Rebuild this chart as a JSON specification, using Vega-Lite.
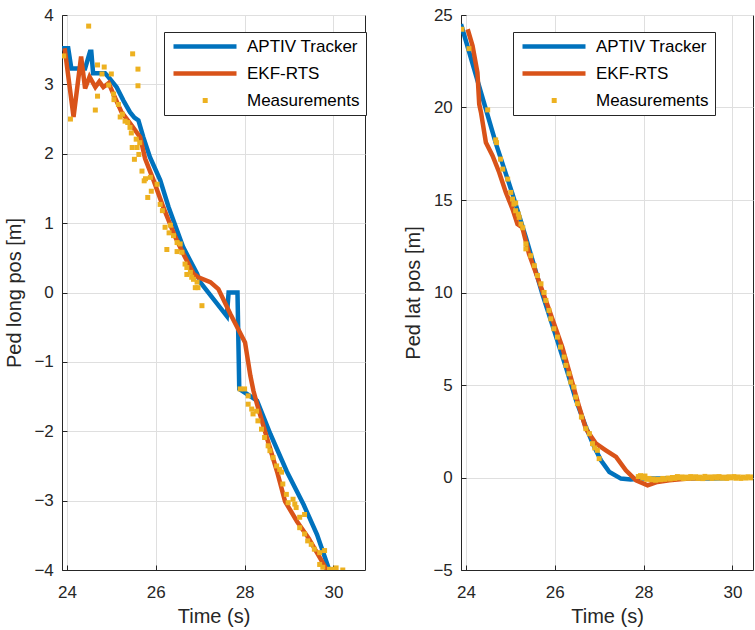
{
  "$schema": "https://vega.github.io/schema/vega-lite/v6.json",
  "background": "white",
  "padding": {"left": 4, "top": 5, "right": 0, "bottom": 0},
  "spacing": 36,
  "datasets": {
    "la": [
      {"t": 23.89, "v": 3.52, "s": "APTIV Tracker"}, {"t": 24.03, "v": 3.52, "s": "APTIV Tracker"}, {"t": 24.10, "v": 3.23, "s": "APTIV Tracker"}, {"t": 24.41, "v": 3.23, "s": "APTIV Tracker"}, {"t": 24.52, "v": 3.47, "s": "APTIV Tracker"}, {"t": 24.55, "v": 3.47, "s": "APTIV Tracker"}, {"t": 24.59, "v": 3.16, "s": "APTIV Tracker"}, {"t": 24.86, "v": 3.16, "s": "APTIV Tracker"}, {"t": 24.93, "v": 3.11, "s": "APTIV Tracker"}, {"t": 25.12, "v": 2.96, "s": "APTIV Tracker"}, {"t": 25.27, "v": 2.77, "s": "APTIV Tracker"}, {"t": 25.42, "v": 2.60, "s": "APTIV Tracker"}, {"t": 25.52, "v": 2.52, "s": "APTIV Tracker"}, {"t": 25.61, "v": 2.48, "s": "APTIV Tracker"}, {"t": 25.72, "v": 2.24, "s": "APTIV Tracker"}, {"t": 25.87, "v": 1.95, "s": "APTIV Tracker"}, {"t": 26.10, "v": 1.62, "s": "APTIV Tracker"}, {"t": 26.29, "v": 1.23, "s": "APTIV Tracker"}, {"t": 26.62, "v": 0.65, "s": "APTIV Tracker"}, {"t": 26.93, "v": 0.27, "s": "APTIV Tracker"}, {"t": 27.00, "v": 0.15, "s": "APTIV Tracker"}, {"t": 27.60, "v": -0.34, "s": "APTIV Tracker"}, {"t": 27.64, "v": 0.0, "s": "APTIV Tracker"}, {"t": 27.84, "v": 0.0, "s": "APTIV Tracker"}, {"t": 27.88, "v": -1.39, "s": "APTIV Tracker"}, {"t": 28.28, "v": -1.56, "s": "APTIV Tracker"}, {"t": 28.58, "v": -2.04, "s": "APTIV Tracker"}, {"t": 28.95, "v": -2.58, "s": "APTIV Tracker"}, {"t": 29.33, "v": -3.06, "s": "APTIV Tracker"}, {"t": 29.63, "v": -3.49, "s": "APTIV Tracker"}, {"t": 29.89, "v": -3.97, "s": "APTIV Tracker"}, {"t": 29.92, "v": -4.0, "s": "APTIV Tracker"}
    ],
    "le": [
      {"t": 23.95, "v": 3.52, "s": "EKF-RTS"}, {"t": 24.15, "v": 2.53, "s": "EKF-RTS"}, {"t": 24.32, "v": 3.40, "s": "EKF-RTS"}, {"t": 24.41, "v": 2.94, "s": "EKF-RTS"}, {"t": 24.51, "v": 3.11, "s": "EKF-RTS"}, {"t": 24.64, "v": 2.96, "s": "EKF-RTS"}, {"t": 24.73, "v": 3.04, "s": "EKF-RTS"}, {"t": 24.82, "v": 2.96, "s": "EKF-RTS"}, {"t": 24.94, "v": 3.02, "s": "EKF-RTS"}, {"t": 25.04, "v": 2.87, "s": "EKF-RTS"}, {"t": 25.23, "v": 2.60, "s": "EKF-RTS"}, {"t": 25.42, "v": 2.44, "s": "EKF-RTS"}, {"t": 25.65, "v": 2.24, "s": "EKF-RTS"}, {"t": 25.76, "v": 1.93, "s": "EKF-RTS"}, {"t": 25.95, "v": 1.62, "s": "EKF-RTS"}, {"t": 26.17, "v": 1.23, "s": "EKF-RTS"}, {"t": 26.44, "v": 0.80, "s": "EKF-RTS"}, {"t": 26.62, "v": 0.56, "s": "EKF-RTS"}, {"t": 26.85, "v": 0.27, "s": "EKF-RTS"}, {"t": 26.96, "v": 0.22, "s": "EKF-RTS"}, {"t": 27.23, "v": 0.15, "s": "EKF-RTS"}, {"t": 27.41, "v": 0.05, "s": "EKF-RTS"}, {"t": 27.68, "v": -0.31, "s": "EKF-RTS"}, {"t": 28.01, "v": -0.72, "s": "EKF-RTS"}, {"t": 28.13, "v": -1.20, "s": "EKF-RTS"}, {"t": 28.20, "v": -1.42, "s": "EKF-RTS"}, {"t": 28.28, "v": -1.61, "s": "EKF-RTS"}, {"t": 28.50, "v": -2.09, "s": "EKF-RTS"}, {"t": 28.73, "v": -2.58, "s": "EKF-RTS"}, {"t": 28.91, "v": -3.01, "s": "EKF-RTS"}, {"t": 29.18, "v": -3.30, "s": "EKF-RTS"}, {"t": 29.44, "v": -3.54, "s": "EKF-RTS"}, {"t": 29.70, "v": -3.83, "s": "EKF-RTS"}, {"t": 29.85, "v": -4.0, "s": "EKF-RTS"}
    ],
    "lm": [
      {"t": 23.93, "v": 3.41, "s": "Measurements"}, {"t": 24.08, "v": 2.50, "s": "Measurements"}, {"t": 24.49, "v": 3.84, "s": "Measurements"}, {"t": 24.64, "v": 2.63, "s": "Measurements"}, {"t": 24.69, "v": 2.83, "s": "Measurements"}, {"t": 24.69, "v": 3.28, "s": "Measurements"}, {"t": 24.79, "v": 3.15, "s": "Measurements"}, {"t": 24.84, "v": 3.25, "s": "Measurements"}, {"t": 24.94, "v": 2.99, "s": "Measurements"}, {"t": 25.00, "v": 3.15, "s": "Measurements"}, {"t": 25.05, "v": 2.86, "s": "Measurements"}, {"t": 25.06, "v": 2.78, "s": "Measurements"}, {"t": 25.16, "v": 2.71, "s": "Measurements"}, {"t": 25.20, "v": 2.53, "s": "Measurements"}, {"t": 25.25, "v": 2.57, "s": "Measurements"}, {"t": 25.31, "v": 2.47, "s": "Measurements"}, {"t": 25.37, "v": 2.45, "s": "Measurements"}, {"t": 25.42, "v": 2.38, "s": "Measurements"}, {"t": 25.45, "v": 2.30, "s": "Measurements"}, {"t": 25.48, "v": 3.44, "s": "Measurements"}, {"t": 25.47, "v": 2.09, "s": "Measurements"}, {"t": 25.52, "v": 1.92, "s": "Measurements"}, {"t": 25.56, "v": 2.21, "s": "Measurements"}, {"t": 25.58, "v": 2.09, "s": "Measurements"}, {"t": 25.60, "v": 3.22, "s": "Measurements"}, {"t": 25.60, "v": 2.98, "s": "Measurements"}, {"t": 25.62, "v": 1.99, "s": "Measurements"}, {"t": 25.64, "v": 2.16, "s": "Measurements"}, {"t": 25.69, "v": 1.75, "s": "Measurements"}, {"t": 25.74, "v": 1.61, "s": "Measurements"}, {"t": 25.77, "v": 1.64, "s": "Measurements"}, {"t": 25.82, "v": 1.37, "s": "Measurements"}, {"t": 25.88, "v": 1.66, "s": "Measurements"}, {"t": 25.90, "v": 1.46, "s": "Measurements"}, {"t": 26.03, "v": 1.56, "s": "Measurements"}, {"t": 26.10, "v": 1.27, "s": "Measurements"}, {"t": 26.15, "v": 1.18, "s": "Measurements"}, {"t": 26.21, "v": 0.94, "s": "Measurements"}, {"t": 26.25, "v": 0.62, "s": "Measurements"}, {"t": 26.30, "v": 0.86, "s": "Measurements"}, {"t": 26.33, "v": 0.97, "s": "Measurements"}, {"t": 26.40, "v": 0.82, "s": "Measurements"}, {"t": 26.48, "v": 0.72, "s": "Measurements"}, {"t": 26.48, "v": 0.59, "s": "Measurements"}, {"t": 26.55, "v": 0.70, "s": "Measurements"}, {"t": 26.59, "v": 0.58, "s": "Measurements"}, {"t": 26.66, "v": 0.41, "s": "Measurements"}, {"t": 26.70, "v": 0.36, "s": "Measurements"}, {"t": 26.70, "v": 0.26, "s": "Measurements"}, {"t": 26.78, "v": 0.29, "s": "Measurements"}, {"t": 26.81, "v": 0.22, "s": "Measurements"}, {"t": 26.85, "v": 0.19, "s": "Measurements"}, {"t": 26.89, "v": 0.07, "s": "Measurements"}, {"t": 26.93, "v": 0.15, "s": "Measurements"}, {"t": 26.95, "v": 0.07, "s": "Measurements"}, {"t": 27.04, "v": -0.19, "s": "Measurements"},
      {"t": 27.90, "v": -1.39, "s": "Measurements"}, {"t": 28.00, "v": -1.39, "s": "Measurements"}, {"t": 28.08, "v": -1.49, "s": "Measurements"}, {"t": 28.08, "v": -1.61, "s": "Measurements"}, {"t": 28.16, "v": -1.68, "s": "Measurements"}, {"t": 28.19, "v": -1.75, "s": "Measurements"}, {"t": 28.27, "v": -1.71, "s": "Measurements"}, {"t": 28.30, "v": -1.85, "s": "Measurements"}, {"t": 28.38, "v": -1.97, "s": "Measurements"}, {"t": 28.45, "v": -2.09, "s": "Measurements"}, {"t": 28.53, "v": -2.21, "s": "Measurements"}, {"t": 28.57, "v": -2.28, "s": "Measurements"}, {"t": 28.64, "v": -2.38, "s": "Measurements"}, {"t": 28.72, "v": -2.50, "s": "Measurements"}, {"t": 28.79, "v": -2.55, "s": "Measurements"}, {"t": 28.83, "v": -2.59, "s": "Measurements"}, {"t": 28.86, "v": -2.76, "s": "Measurements"}, {"t": 28.94, "v": -2.91, "s": "Measurements"}, {"t": 28.98, "v": -3.03, "s": "Measurements"}, {"t": 29.09, "v": -2.98, "s": "Measurements"}, {"t": 29.13, "v": -3.05, "s": "Measurements"}, {"t": 29.16, "v": -3.10, "s": "Measurements"}, {"t": 29.24, "v": -3.24, "s": "Measurements"}, {"t": 29.35, "v": -3.20, "s": "Measurements"}, {"t": 29.24, "v": -3.39, "s": "Measurements"}, {"t": 29.35, "v": -3.48, "s": "Measurements"}, {"t": 29.42, "v": -3.58, "s": "Measurements"}, {"t": 29.50, "v": -3.63, "s": "Measurements"}, {"t": 29.57, "v": -3.70, "s": "Measurements"}, {"t": 29.69, "v": -3.75, "s": "Measurements"}, {"t": 29.80, "v": -3.72, "s": "Measurements"}, {"t": 29.69, "v": -3.92, "s": "Measurements"}, {"t": 29.76, "v": -3.96, "s": "Measurements"}, {"t": 29.91, "v": -3.99, "s": "Measurements"}, {"t": 30.02, "v": -3.99, "s": "Measurements"}, {"t": 30.06, "v": -3.97, "s": "Measurements"}, {"t": 30.21, "v": -4.0, "s": "Measurements"}
    ],
    "ra": [
      {"t": 23.89, "v": 24.5, "s": "APTIV Tracker"}, {"t": 24.68, "v": 18.02, "s": "APTIV Tracker"}, {"t": 25.05, "v": 15.32, "s": "APTIV Tracker"}, {"t": 25.35, "v": 12.98, "s": "APTIV Tracker"}, {"t": 25.72, "v": 9.93, "s": "APTIV Tracker"}, {"t": 26.25, "v": 5.97, "s": "APTIV Tracker"}, {"t": 26.48, "v": 4.17, "s": "APTIV Tracker"}, {"t": 26.70, "v": 2.73, "s": "APTIV Tracker"}, {"t": 26.89, "v": 1.65, "s": "APTIV Tracker"}, {"t": 27.04, "v": 0.93, "s": "APTIV Tracker"}, {"t": 27.23, "v": 0.30, "s": "APTIV Tracker"}, {"t": 27.49, "v": -0.06, "s": "APTIV Tracker"}, {"t": 27.71, "v": -0.11, "s": "APTIV Tracker"}, {"t": 27.97, "v": -0.06, "s": "APTIV Tracker"}, {"t": 28.5, "v": -0.05, "s": "APTIV Tracker"}, {"t": 29.0, "v": -0.03, "s": "APTIV Tracker"}, {"t": 29.5, "v": -0.05, "s": "APTIV Tracker"}, {"t": 29.9, "v": -0.03, "s": "APTIV Tracker"}
    ],
    "re": [
      {"t": 24.04, "v": 24.23, "s": "EKF-RTS"}, {"t": 24.15, "v": 23.33, "s": "EKF-RTS"}, {"t": 24.26, "v": 21.89, "s": "EKF-RTS"}, {"t": 24.30, "v": 20.18, "s": "EKF-RTS"}, {"t": 24.34, "v": 19.73, "s": "EKF-RTS"}, {"t": 24.45, "v": 18.11, "s": "EKF-RTS"}, {"t": 24.60, "v": 17.39, "s": "EKF-RTS"}, {"t": 24.75, "v": 16.49, "s": "EKF-RTS"}, {"t": 24.90, "v": 15.41, "s": "EKF-RTS"}, {"t": 25.05, "v": 14.51, "s": "EKF-RTS"}, {"t": 25.16, "v": 13.70, "s": "EKF-RTS"}, {"t": 25.27, "v": 13.52, "s": "EKF-RTS"}, {"t": 25.42, "v": 12.09, "s": "EKF-RTS"}, {"t": 25.80, "v": 9.57, "s": "EKF-RTS"}, {"t": 26.17, "v": 7.05, "s": "EKF-RTS"}, {"t": 26.55, "v": 3.81, "s": "EKF-RTS"}, {"t": 26.70, "v": 2.64, "s": "EKF-RTS"}, {"t": 26.93, "v": 1.83, "s": "EKF-RTS"}, {"t": 27.15, "v": 1.47, "s": "EKF-RTS"}, {"t": 27.38, "v": 1.11, "s": "EKF-RTS"}, {"t": 27.60, "v": 0.39, "s": "EKF-RTS"}, {"t": 27.83, "v": -0.15, "s": "EKF-RTS"}, {"t": 28.09, "v": -0.42, "s": "EKF-RTS"}, {"t": 28.31, "v": -0.24, "s": "EKF-RTS"}, {"t": 28.58, "v": -0.15, "s": "EKF-RTS"}, {"t": 29.0, "v": -0.05, "s": "EKF-RTS"}, {"t": 29.5, "v": -0.02, "s": "EKF-RTS"}, {"t": 29.9, "v": 0.0, "s": "EKF-RTS"}
    ],
    "rm": [
      {"t": 23.91, "v": 24.23, "s": "Measurements"}, {"t": 24.07, "v": 23.18, "s": "Measurements"}, {"t": 24.49, "v": 19.87, "s": "Measurements"}, {"t": 24.67, "v": 18.25, "s": "Measurements"}, {"t": 24.69, "v": 18.1, "s": "Measurements"}, {"t": 24.78, "v": 17.21, "s": "Measurements"}, {"t": 24.83, "v": 16.67, "s": "Measurements"}, {"t": 24.94, "v": 16.13, "s": "Measurements"}, {"t": 25.01, "v": 15.41, "s": "Measurements"}, {"t": 25.05, "v": 15.05, "s": "Measurements"}, {"t": 25.08, "v": 14.78, "s": "Measurements"}, {"t": 25.12, "v": 14.84, "s": "Measurements"}, {"t": 25.12, "v": 14.42, "s": "Measurements"}, {"t": 25.18, "v": 14.24, "s": "Measurements"}, {"t": 25.20, "v": 14.06, "s": "Measurements"}, {"t": 25.24, "v": 13.70, "s": "Measurements"}, {"t": 25.28, "v": 13.5, "s": "Measurements"}, {"t": 25.35, "v": 12.63, "s": "Measurements"}, {"t": 25.35, "v": 12.36, "s": "Measurements"}, {"t": 25.46, "v": 11.99, "s": "Measurements"}, {"t": 25.54, "v": 11.45, "s": "Measurements"}, {"t": 25.61, "v": 10.92, "s": "Measurements"}, {"t": 25.69, "v": 10.47, "s": "Measurements"}, {"t": 25.76, "v": 10.0, "s": "Measurements"}, {"t": 25.80, "v": 9.57, "s": "Measurements"}, {"t": 25.87, "v": 9.03, "s": "Measurements"}, {"t": 25.91, "v": 8.58, "s": "Measurements"}, {"t": 25.98, "v": 8.04, "s": "Measurements"}, {"t": 26.06, "v": 7.59, "s": "Measurements"}, {"t": 26.13, "v": 7.05, "s": "Measurements"}, {"t": 26.21, "v": 6.51, "s": "Measurements"}, {"t": 26.25, "v": 6.06, "s": "Measurements"}, {"t": 26.32, "v": 5.61, "s": "Measurements"}, {"t": 26.36, "v": 5.16, "s": "Measurements"}, {"t": 26.43, "v": 4.89, "s": "Measurements"}, {"t": 26.47, "v": 4.35, "s": "Measurements"}, {"t": 26.51, "v": 3.99, "s": "Measurements"}, {"t": 26.60, "v": 3.27, "s": "Measurements"}, {"t": 26.70, "v": 2.64, "s": "Measurements"}, {"t": 26.78, "v": 2.37, "s": "Measurements"}, {"t": 26.85, "v": 1.83, "s": "Measurements"}, {"t": 26.90, "v": 1.6, "s": "Measurements"}, {"t": 26.96, "v": 1.47, "s": "Measurements"}, {"t": 27.00, "v": 1.02, "s": "Measurements"},
      {"t": 27.88, "v": 0.05, "s": "Measurements"}, {"t": 27.93, "v": 0.1, "s": "Measurements"}, {"t": 27.98, "v": -0.02, "s": "Measurements"}, {"t": 28.03, "v": 0.08, "s": "Measurements"}, {"t": 28.07, "v": -0.1, "s": "Measurements"}, {"t": 28.12, "v": -0.05, "s": "Measurements"}, {"t": 28.17, "v": -0.12, "s": "Measurements"}, {"t": 28.22, "v": -0.08, "s": "Measurements"}, {"t": 28.27, "v": -0.15, "s": "Measurements"}, {"t": 28.33, "v": -0.1, "s": "Measurements"}, {"t": 28.38, "v": -0.12, "s": "Measurements"}, {"t": 28.43, "v": -0.05, "s": "Measurements"}, {"t": 28.48, "v": -0.1, "s": "Measurements"}, {"t": 28.55, "v": -0.03, "s": "Measurements"}, {"t": 28.60, "v": -0.08, "s": "Measurements"}, {"t": 28.65, "v": 0.0, "s": "Measurements"}, {"t": 28.70, "v": -0.05, "s": "Measurements"}, {"t": 28.76, "v": 0.05, "s": "Measurements"}, {"t": 28.80, "v": -0.02, "s": "Measurements"}, {"t": 28.86, "v": 0.03, "s": "Measurements"}, {"t": 28.90, "v": -0.06, "s": "Measurements"}, {"t": 28.96, "v": 0.02, "s": "Measurements"}, {"t": 29.01, "v": -0.04, "s": "Measurements"}, {"t": 29.06, "v": 0.05, "s": "Measurements"}, {"t": 29.11, "v": -0.03, "s": "Measurements"}, {"t": 29.17, "v": 0.04, "s": "Measurements"}, {"t": 29.22, "v": -0.05, "s": "Measurements"}, {"t": 29.27, "v": 0.02, "s": "Measurements"}, {"t": 29.33, "v": -0.06, "s": "Measurements"}, {"t": 29.38, "v": 0.06, "s": "Measurements"}, {"t": 29.43, "v": -0.02, "s": "Measurements"}, {"t": 29.49, "v": 0.03, "s": "Measurements"}, {"t": 29.54, "v": -0.05, "s": "Measurements"}, {"t": 29.60, "v": 0.04, "s": "Measurements"}, {"t": 29.65, "v": -0.03, "s": "Measurements"}, {"t": 29.70, "v": 0.05, "s": "Measurements"}, {"t": 29.76, "v": -0.04, "s": "Measurements"}, {"t": 29.81, "v": 0.02, "s": "Measurements"}, {"t": 29.87, "v": -0.05, "s": "Measurements"}, {"t": 29.92, "v": 0.04, "s": "Measurements"}, {"t": 29.97, "v": -0.02, "s": "Measurements"}, {"t": 30.03, "v": 0.05, "s": "Measurements"}, {"t": 30.08, "v": -0.04, "s": "Measurements"}, {"t": 30.13, "v": 0.03, "s": "Measurements"}, {"t": 30.19, "v": -0.05, "s": "Measurements"}, {"t": 30.24, "v": 0.02, "s": "Measurements"}, {"t": 30.30, "v": -0.03, "s": "Measurements"}, {"t": 30.35, "v": 0.04, "s": "Measurements"}, {"t": 30.41, "v": -0.02, "s": "Measurements"}, {"t": 30.46, "v": 0.03, "s": "Measurements"}
    ]
  },
  "resolve": {"scale": {"color": "independent"}, "legend": {"color": "independent"}},
  "hconcat": [
    {
      "width": 303,
      "height": 555,
      "encoding": {
        "x": {"field": "t", "type": "quantitative", "title": "Time (s)", "scale": {"domain": [23.89, 30.71], "nice": false, "zero": false}, "axis": {"values": [24, 26, 28, 30]}},
        "y": {"field": "v", "type": "quantitative", "title": "Ped long pos [m]", "scale": {"domain": [-4, 4], "nice": false, "zero": false}, "axis": {"values": [-4, -3, -2, -1, 0, 1, 2, 3, 4]}},
        "color": {"field": "s", "type": "nominal", "scale": {"domain": ["APTIV Tracker", "EKF-RTS", "Measurements"], "range": ["#0072BD", "#D95319", "#EDB120"]},
          "legend": {"title": null, "orient": "none", "legendX": 102, "legendY": 17,
            "encode": {"symbols": {"update": {
              "shape": {"signal": "datum.value === 'Measurements' ? 'M4.84,-0.5H5.84V0.5H4.84Z' : 'M-1,0H11.6'"},
              "size": {"value": 100},
              "strokeWidth": {"signal": "datum.value === 'Measurements' ? 0 : 4.5"},
              "fill": {"signal": "datum.value === 'Measurements' ? '#EDB120' : 'transparent'"},
              "stroke": {"signal": "datum.value === 'Measurements' ? '#EDB120' : (datum.value === 'APTIV Tracker' ? '#0072BD' : '#D95319')"},
              "opacity": {"value": 1}
            }}}}}
      },
      "layer": [
        {"data": {"name": "la"}, "mark": {"type": "line", "strokeWidth": 4.5, "clip": true}},
        {"data": {"name": "le"}, "mark": {"type": "line", "strokeWidth": 4.5, "clip": true}},
        {"data": {"name": "lm"}, "mark": {"type": "square", "size": 25, "filled": true, "opacity": 1, "clip": true}}
      ]
    },
    {
      "width": 292,
      "height": 555,
      "encoding": {
        "x": {"field": "t", "type": "quantitative", "title": "Time (s)", "scale": {"domain": [23.89, 30.462], "nice": false, "zero": false}, "axis": {"values": [24, 26, 28, 30]}},
        "y": {"field": "v", "type": "quantitative", "title": "Ped lat pos [m]", "scale": {"domain": [-5, 25], "nice": false, "zero": false}, "axis": {"values": [-5, 0, 5, 10, 15, 20, 25]}},
        "color": {"field": "s", "type": "nominal", "scale": {"domain": ["APTIV Tracker", "EKF-RTS", "Measurements"], "range": ["#0072BD", "#D95319", "#EDB120"]},
          "legend": {"title": null, "orient": "none", "legendX": 52, "legendY": 17,
            "encode": {"symbols": {"update": {
              "shape": {"signal": "datum.value === 'Measurements' ? 'M4.84,-0.5H5.84V0.5H4.84Z' : 'M-1,0H11.6'"},
              "size": {"value": 100},
              "strokeWidth": {"signal": "datum.value === 'Measurements' ? 0 : 4.5"},
              "fill": {"signal": "datum.value === 'Measurements' ? '#EDB120' : 'transparent'"},
              "stroke": {"signal": "datum.value === 'Measurements' ? '#EDB120' : (datum.value === 'APTIV Tracker' ? '#0072BD' : '#D95319')"},
              "opacity": {"value": 1}
            }}}}}
      },
      "layer": [
        {"data": {"name": "ra"}, "mark": {"type": "line", "strokeWidth": 4.5, "clip": true}},
        {"data": {"name": "re"}, "mark": {"type": "line", "strokeWidth": 4.5, "clip": true}},
        {"data": {"name": "rm"}, "mark": {"type": "square", "size": 25, "filled": true, "opacity": 1, "clip": true}}
      ]
    }
  ],
  "config": {
    "font": "Liberation Sans",
    "view": {"stroke": "#262626", "strokeWidth": 1},
    "axis": {"domainColor": "#262626", "tickColor": "#262626", "labelColor": "#262626", "titleColor": "#262626", "gridColor": "#dfdfdf", "gridOpacity": 1, "labelFontSize": 17, "titleFontSize": 20, "titleFontWeight": "normal", "labelFlush": false, "labelOverlap": false, "tickSize": -5, "labelPadding": 13.7, "titlePadding": 9},
    "axisX": {"labelPadding": 19.7, "titlePadding": 6},
    "legend": {"padding": 6, "strokeColor": "#262626", "fillColor": "white", "cornerRadius": 0, "labelFontSize": 17, "labelColor": "black", "symbolSize": 100, "labelOffset": 60, "rowPadding": 8, "labelLimit": 300}
  }
}
